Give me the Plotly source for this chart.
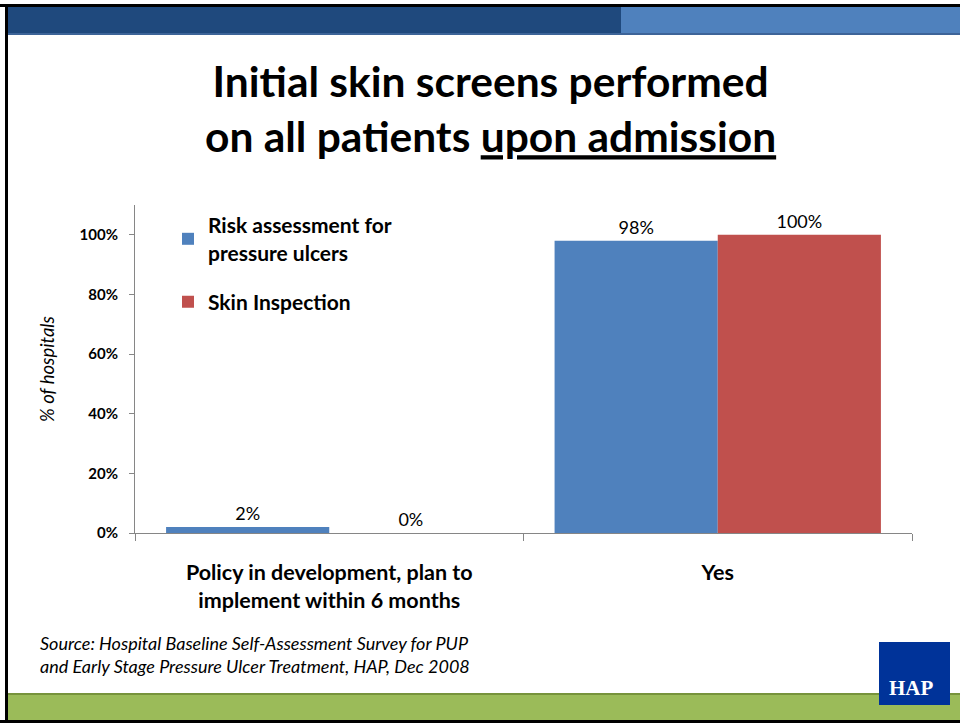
import plotly.graph_objects as go

categories = ["Policy in development, plan to<br>implement within 6 months", "Yes"]
risk_values = [2, 98]
skin_values = [0, 100]
series_names = ["Risk assessment for<br>pressure ulcers", "Skin Inspection"]
y_ticks = [0, 20, 40, 60, 80, 100]
y_tick_labels = ["0%", "20%", "40%", "60%", "80%", "100%"]

W, H = 960, 723
L, R, T, B = 135, 48, 205, 190
PW, PH = W - L - R, H - T - B

def px(x):
    return (x - L) / PW

def py(y):
    return (H - B - y) / PH

FONT = "Lato"
fig = go.Figure()
fig.add_trace(go.Bar(
    x=categories, y=risk_values, name=series_names[0], legendgroup="risk",
    marker=dict(color="#4F81BD", line=dict(width=0)),
    text=[f"{v}%" for v in risk_values], textposition="outside",
    textfont=dict(family=FONT, size=18, color="#000000"),
    cliponaxis=False, hoverinfo="x+y",
))
fig.add_trace(go.Bar(
    x=categories, y=skin_values, name=series_names[1], legendgroup="skin",
    marker=dict(color="#C0504D", line=dict(width=0)),
    text=[f"{v}%" for v in skin_values], textposition="outside",
    textfont=dict(family=FONT, size=18, color="#000000"),
    cliponaxis=False, hoverinfo="x+y",
))

fig.update_layout(
    width=W, height=H,
    margin=dict(l=L, r=R, t=T, b=B, autoexpand=False),
    paper_bgcolor="white", plot_bgcolor="white",
    barmode="group", bargap=0.16, bargroupgap=0,
    font=dict(family=FONT, color="#000000"),
    showlegend=True,
    legend=dict(
        x=px(168), y=py(205), xanchor="left", yanchor="top",
        bgcolor="rgba(0,0,0,0)",
        font=dict(family=FONT, size=21, color="#000000", weight="bold"),
        tracegroupgap=19, itemwidth=30,
    ),
    xaxis=dict(
        showline=True, linecolor="#868686", linewidth=1,
        ticks="outside", tickson="boundaries", ticklen=7, tickcolor="#868686",
        tickfont=dict(family=FONT, size=21.5, color="#000000", weight="bold"),
        ticklabelstandoff=20,
        showgrid=False, zeroline=False,
    ),
    yaxis=dict(
        range=[0, 110],
        tickvals=y_ticks, ticktext=y_tick_labels,
        showline=True, linecolor="#868686", linewidth=1,
        ticks="outside", ticklen=5, tickcolor="#868686",
        tickfont=dict(family=FONT, size=15, color="#000000", weight="bold"),
        ticklabelstandoff=8,
        showgrid=False, zeroline=False,
        title=dict(text="<i>% of hospitals</i>", font=dict(family=FONT, size=18.5, color="#000000"), standoff=20),
    ),
)

shapes = []
# white cover at right edge
shapes.append(dict(type="rect", xref="paper", yref="paper", x0=px(940), x1=px(962), y0=py(723), y1=py(0),
                   fillcolor="#FFFFFF", line=dict(width=0), layer="above"))
# top black border
shapes.append(dict(type="rect", xref="paper", yref="paper", x0=px(0), x1=px(960), y0=py(7), y1=py(4),
                   fillcolor="#000000", line=dict(width=0), layer="above"))
# top bars
shapes.append(dict(type="rect", xref="paper", yref="paper", x0=px(7), x1=px(621), y0=py(35), y1=py(7),
                   fillcolor="#1F497D", line=dict(width=0), layer="above"))
shapes.append(dict(type="rect", xref="paper", yref="paper", x0=px(621), x1=px(960), y0=py(35), y1=py(7),
                   fillcolor="#4F81BD", line=dict(width=0), layer="above"))
shapes.append(dict(type="rect", xref="paper", yref="paper", x0=px(7), x1=px(960), y0=py(35), y1=py(33),
                   fillcolor="#3D6498", line=dict(width=0), layer="above"))
# bottom green bar
shapes.append(dict(type="rect", xref="paper", yref="paper", x0=px(7), x1=px(960), y0=py(720), y1=py(693),
                   fillcolor="#9BBB59", line=dict(width=0), layer="above"))
shapes.append(dict(type="rect", xref="paper", yref="paper", x0=px(7), x1=px(960), y0=py(695), y1=py(693),
                   fillcolor="#77933C", line=dict(width=0), layer="above"))
# bottom black border
shapes.append(dict(type="rect", xref="paper", yref="paper", x0=px(0), x1=px(960), y0=py(723), y1=py(720),
                   fillcolor="#000000", line=dict(width=0), layer="above"))
# left black border
shapes.append(dict(type="rect", xref="paper", yref="paper", x0=px(5), x1=px(8), y0=py(723), y1=py(4),
                   fillcolor="#000000", line=dict(width=0), layer="above"))
# HAP logo box
shapes.append(dict(type="rect", xref="paper", yref="paper", x0=px(879), x1=px(950), y0=py(705), y1=py(642),
                   fillcolor="#003399", line=dict(width=0), layer="above"))
fig.update_layout(shapes=shapes)

annotations = [
    dict(text="<b>Initial skin screens performed<br>on all patients <u>upon admission</u></b>",
         xref="paper", yref="paper", x=px(490), y=py(108), xanchor="center", yanchor="middle",
         showarrow=False, font=dict(family=FONT, size=42.5, color="#000000")),
    dict(text="<i>Source: Hospital Baseline Self-Assessment Survey for PUP<br>and Early Stage Pressure Ulcer Treatment, HAP, Dec 2008</i>",
         xref="paper", yref="paper", x=px(38), y=py(654), xanchor="left", yanchor="middle", align="left",
         showarrow=False, font=dict(family=FONT, size=18, color="#000000")),
    dict(text="<b>HAP</b>", xref="paper", yref="paper", x=px(911), y=py(688), xanchor="center", yanchor="middle",
         showarrow=False, font=dict(family="Liberation Serif", size=21, color="#FFFFFF")),
]
fig.update_layout(annotations=annotations)

fig.write_html("out.html", config={"displayModeBar": False},
               post_script="document.body.style.margin='0px';document.body.style.overflow='hidden';")
